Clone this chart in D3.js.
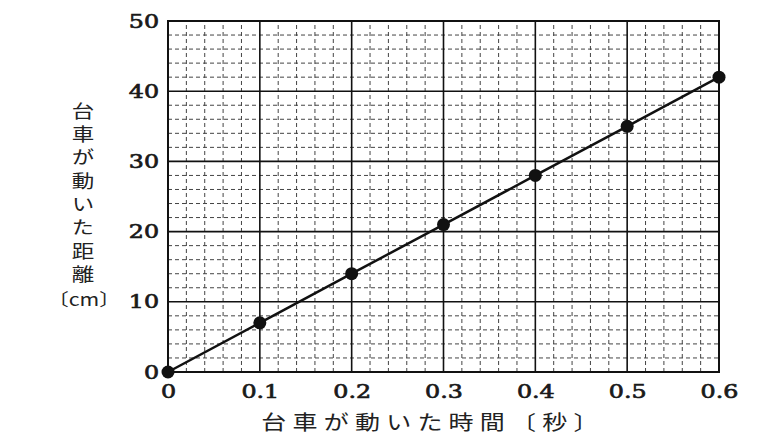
<!DOCTYPE html>
<html><head><meta charset="utf-8">
<script src="https://cdn.jsdelivr.net/npm/d3@7"></script>
<style>body{margin:0;background:#fff}svg{display:block}</style>
</head><body>
<svg id="c" width="768" height="448"></svg>
<script>
const times = [0, 0.1, 0.2, 0.3, 0.4, 0.5, 0.6];
const distances = [0, 7, 14, 21, 28, 35, 42];
const xTicks = [0, 0.1, 0.2, 0.3, 0.4, 0.5, 0.6];
const yTicks = [0, 10, 20, 30, 40, 50];
const xLabel = "台車が動いた時間〔秒〕";
const yLabel = "台車が動いた距離";
const yLabelUnit = "〔cm〕";

const svg = d3.select("#c");
const x = d3.scaleLinear().domain([0, 0.6]).range([168, 719]);
const y = d3.scaleLinear().domain([0, 50]).range([372, 21]);

const minorX = d3.range(0, 31).map(i => i * 0.02);
const minorY = d3.range(0, 26).map(i => i * 2);

const g = svg.append("g");
g.selectAll(".mx").data(minorX.filter((d,i)=>i%5!==0)).join("line")
  .attr("x1", d=>x(d)).attr("x2", d=>x(d)).attr("y1", y(0)).attr("y2", y(50))
  .attr("stroke", "#444").attr("stroke-width", 1).attr("stroke-dasharray", "4,3");
g.selectAll(".my").data(minorY.filter((d,i)=>i%5!==0)).join("line")
  .attr("y1", d=>y(d)).attr("y2", d=>y(d)).attr("x1", x(0)).attr("x2", x(0.6))
  .attr("stroke", "#444").attr("stroke-width", 1).attr("stroke-dasharray", "4,3");
g.selectAll(".Mx").data(xTicks).join("line")
  .attr("x1", d=>x(d)).attr("x2", d=>x(d)).attr("y1", y(0)).attr("y2", y(50))
  .attr("stroke", "#111").attr("stroke-width", 1.6);
g.selectAll(".My").data(yTicks).join("line")
  .attr("y1", d=>y(d)).attr("y2", d=>y(d)).attr("x1", x(0)).attr("x2", x(0.6))
  .attr("stroke", "#111").attr("stroke-width", 1.6);
g.append("rect").attr("x", x(0)).attr("y", y(50)).attr("width", x(0.6)-x(0)).attr("height", y(0)-y(50))
  .attr("fill", "none").attr("stroke", "#111").attr("stroke-width", 2);

const fmt = d => d === 0 ? "0" : d3.format(".1f")(d);
const xAxis = d3.axisBottom(x).tickValues(xTicks).tickFormat(fmt).tickSize(0).tickPadding(0);
const xa = svg.append("g").attr("transform", `translate(0,${y(0)})`).call(xAxis);
xa.select(".domain").remove();
xa.selectAll("text").attr("y", null).attr("dy", null)
  .attr("transform", "translate(0,26) scale(1.25,1)")
  .attr("font-family", "DejaVu Serif").attr("font-size", 19)
  .attr("fill", "#1a1a1a").attr("stroke", "#1a1a1a").attr("stroke-width", 0.7);

const yAxis = d3.axisLeft(y).tickValues(yTicks).tickSize(0).tickPadding(0);
const ya = svg.append("g").attr("transform", `translate(${x(0)},0)`).call(yAxis);
ya.select(".domain").remove();
ya.selectAll("text").attr("x", null)
  .attr("transform", "translate(-9,0) scale(1.25,1)")
  .attr("font-family", "DejaVu Serif").attr("font-size", 19)
  .attr("fill", "#1a1a1a").attr("stroke", "#1a1a1a").attr("stroke-width", 0.7);

const pts = times.map((t,i)=>[t, distances[i]]);
svg.append("path").datum(pts)
  .attr("d", d3.line().x(d=>x(d[0])).y(d=>y(d[1])))
  .attr("fill", "none").attr("stroke", "#111").attr("stroke-width", 2.5);
svg.selectAll(".pt").data(pts).join("circle")
  .attr("cx", d=>x(d[0])).attr("cy", d=>y(d[1])).attr("r", 6.5).attr("fill", "#111");

// x title
svg.append("text").attr("transform", "translate(433,430) scale(1.25,1)").attr("text-anchor", "middle")
  .attr("font-family", "Noto Sans CJK JP").attr("font-size", 20).attr("letter-spacing", 5).attr("fill", "#222")
  .text(xLabel);
// y title: vertical writing
svg.append("text").attr("transform", "translate(83,102) scale(1.25,1)")
  .attr("x", 0).attr("y", 0)
  .style("writing-mode", "vertical-rl").style("text-orientation", "upright")
  .attr("font-family", "Noto Sans CJK JP").attr("font-size", 18).attr("letter-spacing", 5.3).attr("fill", "#222")
  .text(yLabel);
svg.append("text").attr("transform", "translate(84,306) scale(1.25,1)").attr("text-anchor", "middle")
  .attr("font-family", "Noto Sans CJK JP").attr("font-size", 17).attr("fill", "#222")
  .text(yLabelUnit);
</script>
</body></html>
